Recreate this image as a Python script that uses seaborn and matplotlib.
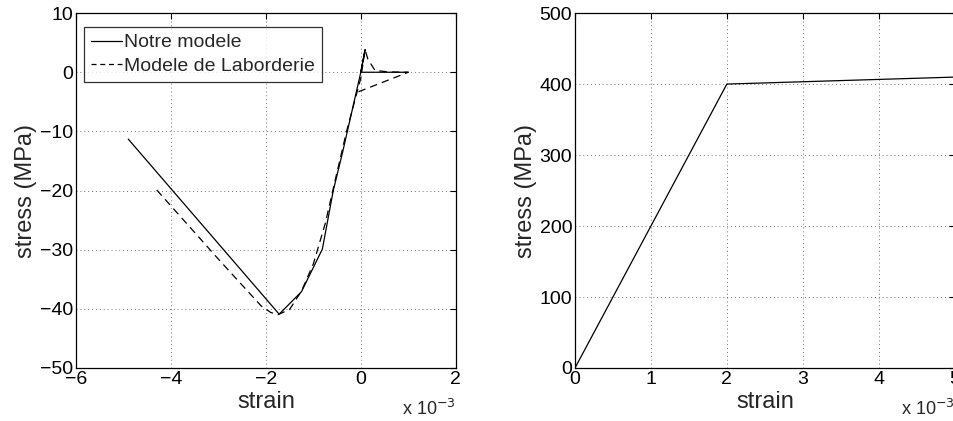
import numpy as np
import matplotlib
matplotlib.use('Agg')
import matplotlib.pyplot as plt
import seaborn as sns

# strain values are in units of 1e-3 (axis shows "x 10^-3")
notre_strain = [-4.9, -1.72, -1.25, -0.81, -0.58, -0.38, 0.0, 0.09, 0.0, 1.0]
notre_stress = [-11.3, -40.9, -37.1, -29.9, -20.0, -13.4, 0.0, 3.8, 0.0, 0.0]

labo_strain = [-4.3, -3.0, -2.1, -1.9, -1.75, -1.5, -1.25, -1.0, -0.75, -0.55,
               -0.3, 0.0, 0.09, 0.15, 0.3, 0.6, 1.0, -0.05]
labo_stress = [-19.9, -31.6, -39.5, -40.6, -41.0, -40.1, -37.0, -32.4, -25.6,
               -18.6, -10.0, -1.0, 3.8, 2.2, 0.3, 0.05, 0.0, -3.3]

steel_strain = [0.0, 2.0, 5.2]
steel_stress = [0.0, 400.0, 410.5]

series_names = ['Notre modele', 'Modele de Laborderie']

sns.set_style('white')
plt.rcParams['font.family'] = ['Liberation Sans', 'DejaVu Sans']
plt.rcParams['axes.unicode_minus'] = True

fig = plt.figure(figsize=(9.54, 4.21), dpi=100)
ax1 = fig.add_axes([0.0797, 0.1259, 0.398, 0.843])
ax2 = fig.add_axes([0.6027, 0.1259, 0.398, 0.843])


def matlab_axes(ax):
    for sp in ax.spines.values():
        sp.set_color('k')
        sp.set_linewidth(0.9)
    ax.tick_params(direction='in', length=4, width=0.8, top=True, right=True,
                   labelsize=14, colors='k', pad=2)
    ax.grid(True, linestyle=(0, (1, 3)), color='0.45', linewidth=0.7)
    ax.set_axisbelow(True)


# left panel: concrete cyclic response
sns.lineplot(x=notre_strain, y=notre_stress, sort=False, estimator=None,
             color='k', linewidth=0.9, ax=ax1, label=series_names[0])
sns.lineplot(x=labo_strain, y=labo_stress, sort=False, estimator=None,
             color='k', linewidth=0.9, ax=ax1, label=series_names[1])
ax1.lines[1].set_dashes((6, 4))
ax1.set_xlim(-6, 2)
ax1.set_ylim(-50, 10)
ax1.set_xticks(np.arange(-6, 3, 2))
ax1.set_yticks(np.arange(-50, 11, 10))
matlab_axes(ax1)
leg = ax1.legend(loc='upper left', bbox_to_anchor=(0.021, 0.961),
                 fontsize=14, frameon=True, fancybox=False,
                 handlelength=1.6, handletextpad=0.1, borderpad=0.35,
                 labelspacing=0.3, borderaxespad=0)
leg.get_frame().set_edgecolor('k')
leg.get_frame().set_linewidth(0.9)
for h in leg.get_lines():
    h.set_linewidth(0.9)
leg.get_lines()[1].set_dashes((4, 3))
ax1.set_xlabel('strain', fontsize=17, labelpad=2)
ax1.set_ylabel('stress (MPa)', fontsize=17, labelpad=2)
ax1.text(1.0, -0.132, r'x 10$^{-3}$', transform=ax1.transAxes, ha='right',
         va='baseline', fontsize=13)

# right panel: steel response
sns.lineplot(x=steel_strain, y=steel_stress, sort=False, estimator=None,
             color='k', linewidth=0.9, ax=ax2)
ax2.set_xlim(0, 5)
ax2.set_ylim(0, 500)
ax2.set_xticks(np.arange(0, 6, 1))
ax2.set_yticks(np.arange(0, 501, 100))
matlab_axes(ax2)
ax2.set_xlabel('strain', fontsize=17, labelpad=2)
ax2.set_ylabel('stress (MPa)', fontsize=17, labelpad=2)
ax2.text(1.0, -0.132, r'x 10$^{-3}$', transform=ax2.transAxes, ha='right',
         va='baseline', fontsize=13)

fig.savefig('out.png', dpi=100)
plt.close(fig)
